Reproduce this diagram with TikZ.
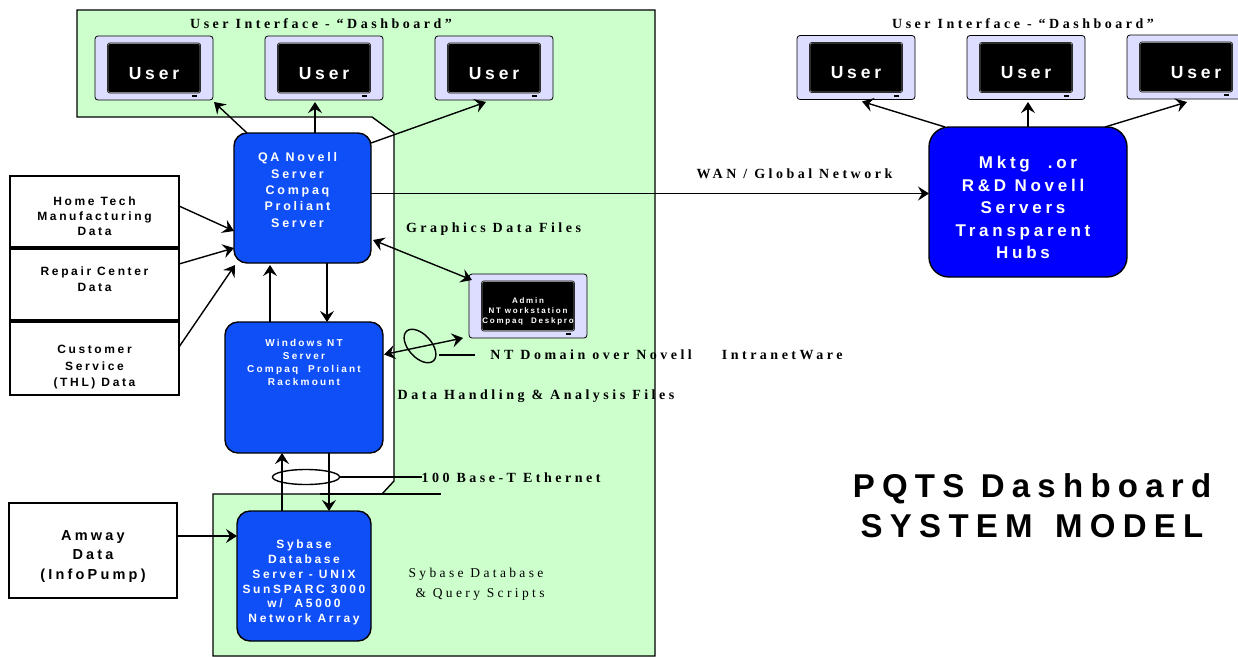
\documentclass[tikz,border=0pt]{standalone}
\usepackage{fontspec}
\usepackage{tikz}
\usetikzlibrary{arrows.meta}
\usetikzlibrary{shapes.geometric}
\newfontfamily\boxfont[LetterSpace=22]{Liberation Sans}
\newfontfamily\capfont[LetterSpace=25]{Liberation Serif}
\newcommand{\padtop}[1]{\rule{0pt}{#1}}
\newcommand{\padbot}[1]{\rule[-#1]{0pt}{#1}}
\newcommand{\nudge}[1]{\mbox{#1\kern10pt}}
\definecolor{panelgreen}{HTML}{CCFFCC}
\definecolor{qablue}{HTML}{0F4FF7}
\definecolor{monframe}{HTML}{DDDDFF}

\begin{document}
\begin{tikzpicture}[x=1pt, y=-1pt, line width=1.4pt,
				   every node/.style={outer sep=0pt, inner sep=0pt, align=center},
				   tip/.tip={Stealth[length=11pt, width=14pt, inset=4pt]},
				   link/.style={-tip},
				   twolink/.style={tip-tip},
				   server/.style={draw=black, fill=qablue, rounded corners=13pt, text=white},
				   source/.style={draw=black, fill=white, minimum width=169pt},
				   monitor/.style={draw=black, line width=0.8pt, fill=monframe, rounded corners=3pt, minimum width=118pt, minimum height=64pt},
				   screen/.style={draw=black, line width=0.5pt, fill=black, double=gray, double distance=0.8pt, rounded corners=2pt, text=white, minimum width=92pt, minimum height=49pt},
				   ring/.style={draw=black, ellipse, fill=none},
				   caption/.style={font=\capfont\bfseries\fontsize{14}{20}\selectfont},
				   plaincaption/.style={font=\capfont\fontsize{13.5}{20}\selectfont}]
\useasboundingbox (0,0) rectangle (1238,656);
\clip (0,0) rectangle (1238,656);
% green panel behind the servers
\draw[fill=panelgreen] (77,10) -- (655,10) -- (655,656) -- (213,656) -- (213,494) -- (382,494) -- (394,481) -- (394,133) -- (372,117) -- (77,117) -- cycle;
\coordinate (panelstub) at (320,494);
\coordinate (panelend) at (441,494);
\draw (panelstub) -- (panelend);

% monitors
\foreach \mon/\x/\y in {one/154/68, two/324/68, three/494/68, four/856/67.5, five/1026/67.5, six/1186/67, admin/528/306}{
	\node[monitor] (\mon) at (\x,\y) {};
	\fill (\x+38,\y+27) rectangle (\x+43,\y+29);
}
\foreach \mon/\txt in {one/User, two/User, three/User, four/User, five/User, six/\hspace*{20pt}User}{
	\node[screen, font=\boxfont\bfseries\fontsize{17.5}{20}\selectfont] (scr\mon) at (\mon.center) {\padtop{23pt}\txt};
}
\node[screen, font=\boxfont\bfseries\fontsize{8}{10}\selectfont] (scradmin) at (admin.center) {\padtop{16pt}Admin\\NT workstation\\Compaq~~Deskpro};

% servers
\node[server, minimum width=137pt, minimum height=130pt, font=\boxfont\bfseries\fontsize{12.5}{16.4}\selectfont] (qa) at (302.5,198) {\nudge{QA Novell}\\\nudge{Server}\\\nudge{Compaq}\\\nudge{Proliant}\\\nudge{Server}\padbot{16pt}};
\node[server, minimum width=158pt, minimum height=131pt, font=\boxfont\bfseries\fontsize{10}{13}\selectfont] (win) at (304,387.5) {Windows NT\\Server\\Compaq~~Proliant\\Rackmount\padbot{50pt}};
\node[server, minimum width=134pt, minimum height=130pt, font=\boxfont\bfseries\fontsize{12}{14.8}\selectfont] (syb) at (304,576) {\padtop{22pt}Sybase\\Database\\Server - UNIX\\SunSPARC 3000\\w/~~A5000\\Network Array};
\node[server, fill=blue, rounded corners=20pt, minimum width=198pt, minimum height=150pt, font=\boxfont\bfseries\fontsize{17}{22.5}\selectfont] (mktg) at (1028,202) {\padtop{24pt}\mbox{Mktg\hspace{18pt}.or}\\\nudge{R\&D Novell}\\\nudge{Servers}\\\nudge{Transparent}\\\nudge{Hubs}};

% data sources
\node[source, minimum height=71pt, font=\boxfont\bfseries\fontsize{12}{15}\selectfont] (home) at (94.5,211.5) {\padtop{18pt}Home Tech\\Manufacturing\\Data};
\node[source, minimum height=71pt, font=\boxfont\bfseries\fontsize{12}{16}\selectfont] (repair) at (94.5,284.5) {Repair Center\\Data\padbot{11pt}};
\node[source, minimum height=73pt, font=\boxfont\bfseries\fontsize{12}{16.5}\selectfont] (cust) at (94.5,358.5) {\padtop{26pt}Customer\\Service\\(THL) Data};
\node[source, minimum width=168pt, minimum height=95pt, font=\boxfont\bfseries\fontsize{14.5}{19.5}\selectfont] (amway) at (93,550.5) {\padtop{21pt}Amway\\Data\\(InfoPump)};

% captions
\node[caption] (uileft) at (321,24) {User Interface - “Dashboard”};
\node[caption] (uiright) at (1023,24) {User Interface - “Dashboard”};
\node[caption] (wan) at (794.5,174) {WAN / Global Network};
\node[caption] (graphics) at (493.5,229) {Graphics Data Files};
\node[caption] (domain) at (666.5,355) {NT Domain over Novell\hspace{30pt}IntranetWare};
\node[caption] (handling) at (536,396) {Data Handling \& Analysis Files};
\node[caption] (ethernet) at (511,478) {100 Base-T Ethernet};
\node[plaincaption] (sybcap) at (476,584) {Sybase Database\\\hspace*{8pt}\& Query Scripts};
\node[font=\boxfont\addfontfeature{LetterSpace=22}\bfseries\fontsize{33}{40}\selectfont] (title) at (1032,506) {PQTS Dashboard\\SYSTEM\hspace{6pt} MODEL};

% rings around the network lines
\node[ring, minimum width=67pt, minimum height=15pt] (ringeth) at (306,477) {};
\node[ring, minimum width=40pt, minimum height=23pt, rotate=-48] (ringnt) at (420,346) {};
\coordinate (ntstub) at (475,355);
\draw ([shift={(19,9)}]ringnt.center) -- (ntstub);
\draw (ringeth.east) -- (ringeth.east -| ethernet.west);

% connectors
\draw[link] ([xshift=-55.5]qa.north) -- ([shift={(60,34)}]one.center);
\draw[link] ([xshift=12.5]qa.north) -- ([shift={(-9,34)}]two.center);
\draw[link] ([shift={(68.5,-55)}]qa.center) -- ([shift={(-8,34)}]three.center);
\draw[link] ([shift={(68.5,-4.5)}]qa.center) -- ([shift={(-99,-8.5)}]mktg.center);
\draw[link] (home.east |- 0,206) -- ([shift={(-68.5,33)}]qa.center);
\draw[link] (repair.east |- 0,264) -- ([shift={(-68.5,50)}]qa.center);
\draw[link] (cust.east |- 0,347) -- ([shift={(-67.5,67)}]qa.center);
\draw[link] ([xshift=-34]win.north) -- ([shift={(-32.5,67)}]qa.center);
\draw[link] ([xshift=24.5]qa.south) -- ([xshift=23]win.north);
\draw[twolink] ([shift={(70.5,42)}]qa.center) -- ([shift={(-56,-26)}]admin.center);
\draw[twolink] ([shift={(80,-33)}]win.center) -- ([shift={(-65,32)}]admin.center);
\draw[link] ([xshift=-22]syb.north) -- ([xshift=-22]win.south);
\draw[link] ([xshift=25]win.south) -- ([xshift=25]syb.north);
\draw[link] (amway.east |- 0,536) -- ([shift={(-67,-40)}]syb.center);
\draw[link] ([xshift=-83]mktg.north) -- ([shift={(6,34)}]four.center);
\draw[link] (mktg.north) -- ([shift={(2,34.5)}]five.center);
\draw[link] ([xshift=77]mktg.north) -- ([shift={(1,35)}]six.center);
\end{tikzpicture}
\end{document}
